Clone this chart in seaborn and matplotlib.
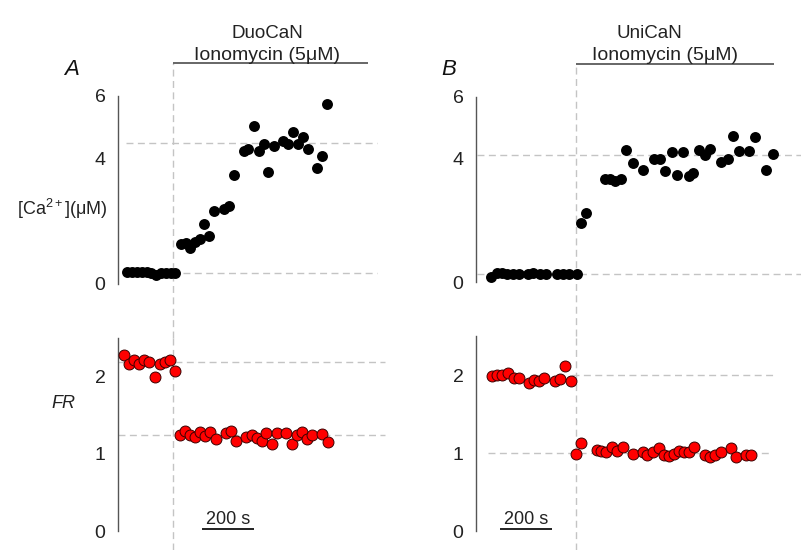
import matplotlib
matplotlib.use("Agg")
import matplotlib.pyplot as plt
import seaborn as sns
import pandas as pd

# ---------------- data (time in s relative to ionomycin addition) ----------------
duo_ca_t = [-178, -159, -140, -121, -102, -85, -68, -47, -28, -9, 8,
            28, 48, 63, 83, 102, 118, 137, 155, 195, 214, 232, 272, 288, 309, 328,
            348, 364, 386, 422, 440, 460, 479, 498, 517, 553, 571, 590]
duo_ca_v = [0.38, 0.36, 0.37, 0.37, 0.36, 0.35, 0.26, 0.34, 0.35, 0.34, 0.34,
            1.26, 1.31, 1.13, 1.34, 1.42, 1.89, 1.53, 2.33, 2.37, 2.49, 3.46, 4.24, 4.30, 5.03, 4.24,
            4.45, 3.58, 4.41, 4.57, 4.47, 4.84, 4.46, 4.69, 4.30, 3.69, 4.08, 5.73]
duo_fr_t = [-190, -170, -151, -133, -112, -92, -72, -52, -32, -14, 5,
            26, 45, 64, 83, 103, 122, 141, 164, 203, 222, 241, 279, 302, 321, 340,
            358, 378, 398, 434, 455, 476, 496, 514, 535, 571, 596]
duo_fr_v = [2.28, 2.16, 2.21, 2.17, 2.21, 2.19, 2.00, 2.17, 2.19, 2.22, 2.07,
            1.25, 1.30, 1.25, 1.22, 1.29, 1.23, 1.29, 1.20, 1.27, 1.30, 1.17, 1.22, 1.25, 1.21, 1.17,
            1.27, 1.13, 1.27, 1.27, 1.13, 1.24, 1.28, 1.19, 1.25, 1.26, 1.16]

uni_ca_t = [-329, -306, -287, -265, -242, -220, -185, -165, -140, -118, -73, -50, -27, 2,
            17, 38, 109, 128, 150, 172, 191, 217, 255, 298, 323, 342, 368, 388, 409, 432,
            449, 473, 494, 515, 558, 583, 604, 625, 665, 688, 731, 755]
uni_ca_v = [0.16, 0.29, 0.29, 0.27, 0.27, 0.27, 0.27, 0.29, 0.27, 0.27, 0.27, 0.27, 0.27, 0.27,
            1.93, 2.24, 3.34, 3.34, 3.29, 3.34, 4.27, 3.86, 3.62, 3.97, 3.97, 3.59, 4.20, 3.47, 4.20, 3.45,
            3.54, 4.27, 4.13, 4.31, 3.88, 3.97, 4.72, 4.26, 4.26, 4.69, 3.64, 4.15]
uni_fr_t = [-324, -305, -286, -263, -241, -222, -181, -162, -142, -123, -83, -63, -42, -22,
            -1, 18, 80, 96, 115, 137, 157, 178, 217, 255, 273, 294, 317, 336, 355, 375,
            394, 414, 432, 453, 494, 513, 532, 555, 594, 614, 653, 673]
uni_fr_v = [1.99, 2.00, 2.00, 2.03, 1.97, 1.97, 1.90, 1.94, 1.93, 1.97, 1.93, 1.95, 2.12, 1.93,
            0.99, 1.13, 1.04, 1.03, 1.01, 1.08, 1.03, 1.08, 0.99, 1.01, 0.98, 1.02, 1.06, 0.98, 0.96, 0.99,
            1.03, 1.01, 1.02, 1.08, 0.97, 0.95, 0.97, 1.01, 1.06, 0.95, 0.97, 0.98]

duo_ca_levels = [0.35, 4.51]
duo_fr_levels = [2.19, 1.24]
uni_ca_levels = [0.27, 4.13]
uni_fr_levels = [2.0, 1.0]

ca_ticks = [0, 1, 2, 3, 4, 5, 6]
ca_ticklabels = ["0", "", "", "", "4", "", "6"]
fr_ticks = [0, 0.5, 1, 1.5, 2, 2.5]
fr_ticklabels = ["0", "", "1", "", "2", ""]

titles = ["DuoCaN", "UniCaN"]
panel_letters = ["A", "B"]
drug_label = "Ionomycin (5\u03bcM)"
ca_label = "[Ca$^{\\mathrm{2+}}$](\u03bcM)"
fr_label = "FR"
scale_len = 200
scale_label = "200 s"

# ---------------- style ----------------
sns.set_style("white")
plt.rcParams["font.family"] = ["Liberation Sans", "DejaVu Sans"]
plt.rcParams["mathtext.fontset"] = "custom"
plt.rcParams["mathtext.rm"] = "Liberation Sans"
plt.rcParams["mathtext.it"] = "Liberation Sans:italic"

W, H = 801, 550
fig = plt.figure(figsize=(W / 100, H / 100), dpi=100)
fig.patch.set_facecolor("white")

PX_PER_S = 0.26
GRID_C = "#c4c4c4"
SPINE_C = "#555555"
DASH = (0, (5, 3.2))


def add_ax(left, right, top, bottom):
    return fig.add_axes([left / W, 1 - bottom / H, (right - left) / W, (bottom - top) / H])


def style(ax, ticks, labels, ylim, left_px, right_px, zero_px):
    ax.set_facecolor("none")
    for s in ["top", "right", "bottom"]:
        ax.spines[s].set_visible(False)
    ax.spines["left"].set_color(SPINE_C)
    ax.spines["left"].set_linewidth(1.0)
    ax.set_ylim(*ylim)
    ax.set_xlim((left_px - zero_px) / PX_PER_S, (right_px - zero_px) / PX_PER_S)
    ax.set_yticks(ticks, labels)
    ax.set_xticks([])
    ax.tick_params(axis="y", direction="out", length=6, width=1, color=SPINE_C,
                   labelsize=14, pad=3, labelcolor="#222222")
    ax.set_xlabel("")
    ax.set_ylabel("")
    ax.grid(False)


panels = [
    dict(zero=173.3, left=118, right=400, ca_box=(96, 283.5), fr_box=(338, 531.3),
         ca_t=duo_ca_t, ca_v=duo_ca_v, fr_t=duo_fr_t, fr_v=duo_fr_v,
         ca_lv=duo_ca_levels, fr_lv=duo_fr_levels,
         ca_span=(126, 377), fr_span=[(118, 385), (118, 385)],
         bar_end=368, bar_y=63, title_x=267, drug_x=267, scale_px=202,
         letter_x=72),
    dict(zero=576.3, left=476, right=801, ca_box=(96.7, 282.3), fr_box=(336.3, 531),
         ca_t=uni_ca_t, ca_v=uni_ca_v, fr_t=uni_fr_t, fr_v=uni_fr_v,
         ca_lv=uni_ca_levels, fr_lv=uni_fr_levels,
         ca_span=(477, 801), fr_span=[(572, 773), (488, 769)],
         bar_end=774, bar_y=64, title_x=649, drug_x=665, scale_px=500,
         letter_x=449),
]

for i, p in enumerate(panels):
    z = p["zero"]
    ax_ca = add_ax(p["left"], p["right"], *p["ca_box"])
    ax_fr = add_ax(p["left"], p["right"], *p["fr_box"])
    style(ax_ca, ca_ticks, ca_ticklabels, (0, 6), p["left"], p["right"], z)
    style(ax_fr, fr_ticks, fr_ticklabels, (0, 2.5), p["left"], p["right"], z)

    # reference levels
    x0, x1 = [(v - z) / PX_PER_S for v in p["ca_span"]]
    ax_ca.hlines(p["ca_lv"], x0, x1, colors=GRID_C, linestyles=DASH, linewidth=1.0, zorder=1)
    for lv, span in zip(p["fr_lv"], p["fr_span"]):
        a, b = [(v - z) / PX_PER_S for v in span]
        ax_fr.hlines(lv, a, b, colors=GRID_C, linestyles=DASH, linewidth=1.0, zorder=1)

    # vertical line at ionomycin addition (t = 0)
    top_ca, bot_ca = p["ca_box"]
    top_fr, bot_fr = p["fr_box"]
    hca = bot_ca - top_ca
    hfr = bot_fr - top_fr
    ax_ca.axvline(0, ymin=(bot_ca - top_fr) / hca, ymax=(bot_ca - p["bar_y"]) / hca,
                  color=GRID_C, linestyle=DASH, linewidth=1.0, clip_on=False, zorder=1)
    ax_fr.axvline(0, ymin=(bot_fr - H) / hfr, ymax=1.0,
                  color=GRID_C, linestyle=DASH, linewidth=1.0, clip_on=False, zorder=1)

    # data
    df_ca = pd.DataFrame({"t": p["ca_t"], "v": p["ca_v"]})
    df_fr = pd.DataFrame({"t": p["fr_t"], "v": p["fr_v"]})
    sns.scatterplot(data=df_ca, x="t", y="v", ax=ax_ca, color="black", s=62,
                    linewidth=0, clip_on=False, zorder=3)
    sns.scatterplot(data=df_fr, x="t", y="v", ax=ax_fr, color="#ff0000", s=62,
                    edgecolor="#3a0000", linewidth=0.7, clip_on=False, zorder=3)
    ax_ca.set_xlabel(""); ax_ca.set_ylabel("")
    ax_fr.set_xlabel(""); ax_fr.set_ylabel("")

    # ionomycin bar
    bar_frac = (bot_ca - p["bar_y"]) / hca
    ax_ca.plot([0, (p["bar_end"] - z) / PX_PER_S], [bar_frac, bar_frac],
               transform=ax_ca.get_xaxis_transform(), color="#666666", lw=1.4,
               clip_on=False, solid_capstyle="butt")

    # scale bar
    sb0 = (p["scale_px"] - z) / PX_PER_S
    yb = (bot_fr - 529) / hfr
    ax_fr.plot([sb0, sb0 + scale_len], [yb, yb], transform=ax_fr.get_xaxis_transform(),
               color="#222222", lw=1.4, clip_on=False, solid_capstyle="butt")
    ax_fr.text(sb0 + scale_len / 2, (bot_fr - 519) / hfr, scale_label,
               transform=ax_fr.get_xaxis_transform(), ha="center", va="center",
               fontsize=13, color="#222222")

    # texts
    fig.text(p["title_x"] / W, 1 - 34 / H, titles[i], ha="center", va="center",
             fontsize=13.5, color="#222222")
    fig.text(p["drug_x"] / W, 1 - 56 / H, drug_label, ha="center", va="center",
             fontsize=14, color="#222222")
    fig.text(p["letter_x"] / W, 1 - 70 / H, panel_letters[i], ha="center", va="center",
             fontsize=16, style="italic", color="#111111")

fig.text(108 / W, 1 - 209 / H, ca_label, ha="right", va="center",
         fontsize=13, color="#222222")
fig.text(63 / W, 1 - 403 / H, fr_label, ha="center", va="center", fontsize=13,
         style="italic", color="#222222")

fig.savefig("out.png", dpi=100, facecolor="white")
